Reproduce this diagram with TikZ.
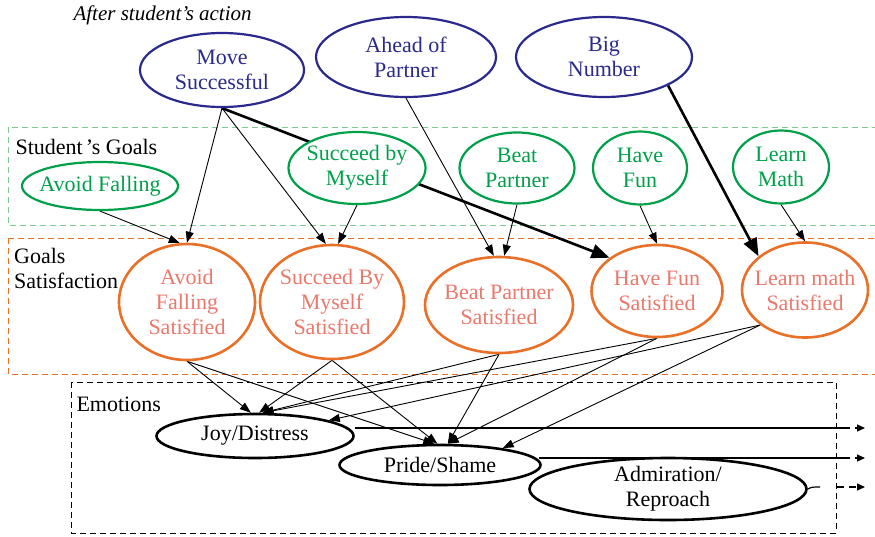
\documentclass[tikz,border=0pt]{standalone}
\usepackage{fontspec}
\setmainfont{Liberation Serif}
\usetikzlibrary{shapes.geometric,arrows.meta,backgrounds}
\definecolor{actblue}{RGB}{43,42,140}
\definecolor{goalgreen}{RGB}{0,160,74}
\definecolor{boxgreen}{RGB}{127,200,143}
\definecolor{satorange}{RGB}{232,112,40}
\definecolor{satsalmon}{RGB}{234,120,108}
\tikzset{
  txt/.style={font=\fontsize{22}{25}\selectfont, align=center},
  oval/.style={ellipse, fill=white, inner xsep=-12pt, inner ysep=-3pt, txt},
  action/.style={oval, draw=actblue, text=actblue, line width=2.2pt},
  goal/.style={oval, draw=goalgreen, text=goalgreen, line width=2.2pt},
  satisf/.style={oval, draw=satorange, text=satsalmon, line width=2.6pt},
  emotion/.style={oval, draw=black, line width=2.6pt},
  link/.style={line width=0.9pt, -{Triangle[length=11pt,width=8pt]}},
  strong/.style={line width=2.6pt, -{Triangle[length=18pt,width=14pt]}},
  region/.style={line width=0.9pt, dash pattern=on 6pt off 4pt},
  outarrow/.style={line width=1.2pt, dash pattern=on 7pt off 5pt, -{Triangle[length=8pt,width=7pt]}}
}
\begin{document}
\begin{tikzpicture}[x=1pt,y=-1pt]
    \useasboundingbox (0,0) rectangle (875,536);
    % labels
    \node [anchor=west, font=\itshape\fontsize{21}{24}\selectfont] (actlabel) at (70,15) {After student’s action};
    \node [anchor=west, txt] (goallabel) at (12,147) {Student\kern3pt’s Goals};
    \node [anchor=north west, txt, align=left, inner sep=0pt] (satlabel) at (14,248) {Goals\\Satisfaction};
    \node [anchor=west, txt] (emolabel) at (73,404) {Emotions};
    % after the action
    \node [action, minimum width=164, minimum height=74] (move) at (222,70) {Move\\Successful};
    \node [action, minimum width=180, minimum height=80] (ahead) at (406,57) {Ahead of\\Partner};
    \node [action, minimum width=176, minimum height=80] (bignum) at (604,57) {Big\\Number};
    % goals
    \node [goal, minimum width=156, minimum height=48] (af) at (100,186) {Avoid Falling};
    \node [goal, minimum width=137, minimum height=72] (sbm) at (357,168) {Succeed by\\Myself};
    \node [goal, minimum width=115, minimum height=71] (bp) at (517,168) {Beat\\Partner};
    \node [goal, minimum width=94, minimum height=73] (hf) at (640,168) {Have\\Fun};
    \node [goal, minimum width=96, minimum height=73] (lm) at (781,167) {Learn\\Math};
    % goals satisfaction
    \node [satisf, minimum width=136, minimum height=116] (afs) at (187,302) {Avoid\\Falling\\Satisfied};
    \node [satisf, minimum width=144, minimum height=114] (sbms) at (332,302) {Succeed By\\Myself\\Satisfied};
    \node [satisf, minimum width=148, minimum height=96] (bps) at (499,305) {Beat Partner\\Satisfied};
    \node [satisf, minimum width=131, minimum height=92] (hfs) at (657,291) {Have Fun\\Satisfied};
    \node [satisf, minimum width=126, minimum height=95] (lms) at (805,290) {Learn math\\Satisfied};
    % emotions
    \node [emotion, minimum width=197, minimum height=44] (joy) at (255,436) {Joy/Distress};
    \node [emotion, minimum width=201, minimum height=40] (pride) at (440,465) {Pride/Shame};
    \node [emotion, minimum width=277, minimum height=62] (adm) at (668,489) {Admiration/\\Reproach};
    \coordinate (joyout) at (843,428);
    \coordinate (prideout) at (843,458);
    \coordinate (admstub) at (820,487);
    \coordinate (admout) at (837,487);
    \begin{pgfonlayer}{background}
        \fill [white] (0,0) rectangle (875,536);
        \draw [region, boxgreen] (8,127) rectangle (880,225);
        \draw [region, satorange] (8,238) rectangle (880,374);
        \draw [region, black] (71,382) rectangle (836,533);
        % action -> satisfaction
        \draw [link] (move.south) -- (afs.north);
        \draw [link] (move.south) -- (sbms.96);
        \draw [strong] (move.south) -- (hfs.145);
        \draw [link] (ahead.south) -- (bps.96);
        \draw [strong] (bignum.-24) -- (lms.144);
        % goal -> satisfaction
        \draw [link] (af.south) -- (afs.97);
        \draw [link] (sbm.south) -- (sbms.84);
        \draw [link] (bp.south) -- (bps.84);
        \draw [link] (hf.south) -- (hfs.north);
        \draw [link] (lm.south) -- (lms.north);
        % satisfaction -> emotions
        \draw [link] (afs.south) -- (joy.100);
        \draw [link] (afs.south) -- (pride.105);
        \draw [link] (sbms.south) -- (joy.80);
        \draw [link] (sbms.south) -- (pride.97);
        \draw [link] (bps.south) -- (joy.72);
        \draw [link] (bps.south) -- (pride.70);
        \draw [link] (hfs.south) -- (joy.72);
        \draw [link] (hfs.south) -- (pride.70);
        \draw [link] (lms.218) -- (joy.12);
        \draw [link] (lms.218) -- (pride.15);
        % emotions out
        \draw [line width=1.2pt] (joy.east) ++(0,-8) -- (joyout);
        \draw [outarrow] (joyout) -- ++(22,0);
        \draw [line width=1.2pt] (pride.east) ++(-3,-7) -- (prideout);
        \draw [outarrow] (prideout) -- ++(22,0);
        \draw [line width=1.2pt] (adm.east) .. controls (812,487) .. (admstub);
        \draw [outarrow] (admout) -- ++(28,0);
    \end{pgfonlayer}
\end{tikzpicture}
\end{document}
